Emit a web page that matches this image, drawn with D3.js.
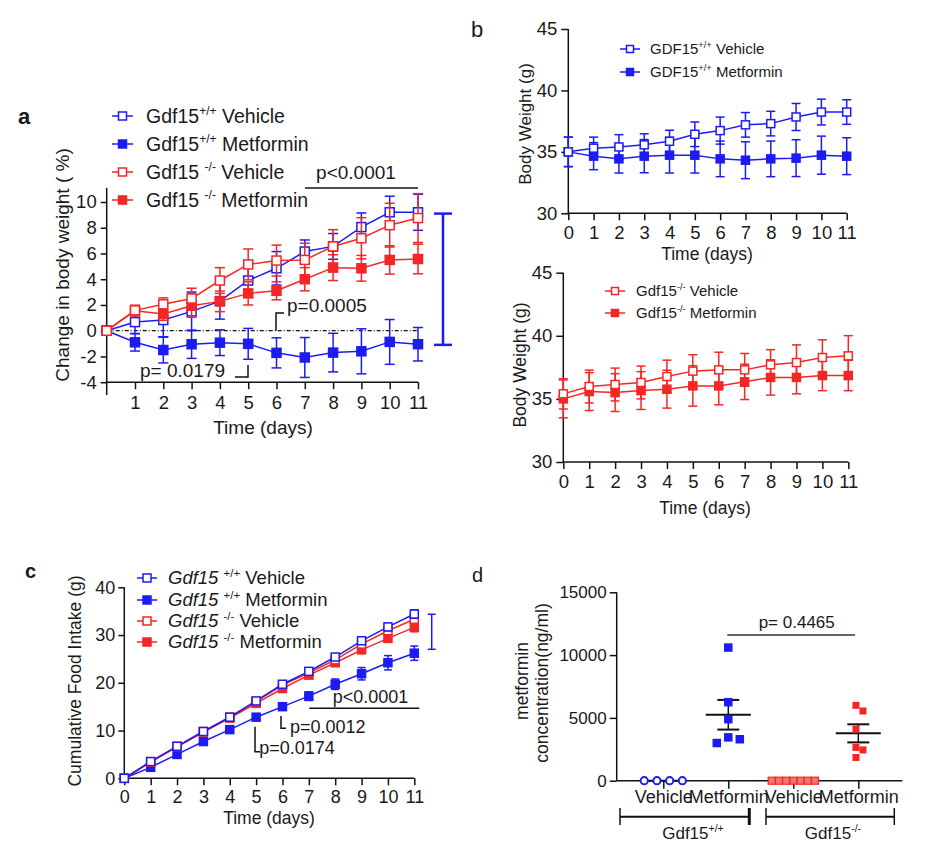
<!DOCTYPE html>
<html><head><meta charset="utf-8">
<script src="https://cdn.jsdelivr.net/npm/d3@7"></script>
<style>
body{margin:0;background:#fff}
svg{display:block}
text{font-family:"Liberation Sans",Arial,Helvetica,sans-serif;fill:#1a1a1a;white-space:pre}
</style>
</head><body>
<svg id="chart" width="928" height="859"></svg>
<script>
// ---------------- DATA ----------------
const days = [0,1,2,3,4,5,6,7,8,9,10,11];

// Panel a: change in body weight (%)
const aWtVeh    = [0, 0.67, 0.83, 1.5, 2.3, 3.9, 4.85, 6.15, 6.55, 8.05, 9.2, 9.2];
const aWtVehErr = [0, 0.9, 1.3, 1.5, 1.4, 1.3, 1.3, 0.9, 1.0, 1.1, 1.25, 1.4];
const aWtMet    = [0, -0.9, -1.5, -1.05, -0.93, -1.02, -1.72, -2.08, -1.7, -1.6, -0.87, -1.05];
const aWtMetErr = [0, 0.68, 1.0, 1.1, 1.0, 1.2, 1.17, 1.55, 1.5, 1.75, 1.74, 1.3];
const aKoVeh    = [0, 1.58, 2.05, 2.5, 3.9, 5.15, 5.45, 5.5, 6.55, 7.18, 8.2, 8.75];
const aKoVehErr = [0, 0.4, 0.5, 0.8, 1.0, 1.2, 1.2, 1.3, 1.3, 1.6, 1.7, 1.9];
const aKoMet    = [0, 1.55, 1.3, 1.94, 2.28, 2.9, 3.1, 4.0, 4.9, 4.85, 5.5, 5.57];
const aKoMetErr = [0, 0.4, 0.5, 0.9, 0.8, 0.9, 0.7, 0.9, 1.0, 1.0, 1.1, 1.15];
const aYTicks = [-4,-2,0,2,4,6,8,10];
const aXTicks = [1,2,3,4,5,6,7,8,9,10,11];
const aLegend = [
  [{t:"Gdf15"},{t:"+/+",sup:1},{t:" Vehicle"}],
  [{t:"Gdf15"},{t:"+/+",sup:1},{t:" Metformin"}],
  [{t:"Gdf15 "},{t:"-/-",sup:1},{t:" Vehicle"}],
  [{t:"Gdf15 "},{t:"-/-",sup:1},{t:" Metformin"}]
];

// Panel b: body weight (g)
const bWtVeh    = [35.0, 35.3, 35.4, 35.57, 35.86, 36.43, 36.73, 37.2, 37.3, 37.84, 38.24, 38.24];
const bWtVehErr = [1.2, 0.9, 1.0, 0.9, 0.9, 1.0, 1.1, 1.0, 1.0, 1.1, 1.05, 1.0];
const bWtMet    = [35.0, 34.65, 34.43, 34.65, 34.73, 34.73, 34.43, 34.32, 34.43, 34.49, 34.73, 34.65];
const bWtMetErr = [1.2, 1.1, 1.15, 1.35, 1.45, 1.45, 1.45, 1.5, 1.45, 1.5, 1.55, 1.5];
const bKoVeh    = [35.4, 35.98, 36.14, 36.3, 36.77, 37.2, 37.3, 37.3, 37.7, 37.88, 38.28, 38.41];
const bKoVehErr = [1.2, 1.3, 1.3, 1.3, 1.3, 1.3, 1.4, 1.3, 1.2, 1.4, 1.4, 1.6];
const bKoMet    = [35.0, 35.58, 35.5, 35.66, 35.77, 36.03, 36.03, 36.35, 36.7, 36.7, 36.85, 36.85];
const bKoMetErr = [1.5, 1.5, 1.5, 1.5, 1.5, 1.6, 1.5, 1.4, 1.4, 1.3, 1.2, 1.2];
const bYTicks = [30,35,40,45];
const bLegendTop = [
  [{t:"GDF15"},{t:"+/+",sup:1},{t:" Vehicle"}],
  [{t:"GDF15"},{t:"+/+",sup:1},{t:" Metformin"}]
];
const bLegendBottom = [
  [{t:"Gdf15"},{t:"-/-",sup:1},{t:" Vehicle"}],
  [{t:"Gdf15"},{t:"-/-",sup:1},{t:" Metformin"}]
];

// Panel c: cumulative food intake (g)
const cWtVeh    = [0, 3.5, 6.7, 9.8, 12.8, 16.2, 19.7, 22.4, 25.4, 28.8, 31.7, 34.4];
const cWtVehErr = [0, 0.3, 0.3, 0.4, 0.4, 0.5, 0.5, 0.6, 0.6, 0.7, 0.8, 0.9];
const cWtMet    = [0, 2.3, 5.0, 7.7, 10.2, 12.8, 15.0, 17.2, 19.7, 21.9, 24.2, 26.2];
const cWtMetErr = [0, 0.3, 0.4, 0.4, 0.5, 0.5, 0.6, 0.9, 1.1, 1.3, 1.5, 1.5];
const cKoVeh    = [0, 3.5, 6.7, 9.8, 12.8, 16.1, 19.5, 22.1, 24.8, 28.1, 30.9, 33.3];
const cKoVehErr = [0, 0.3, 0.3, 0.4, 0.4, 0.5, 0.5, 0.6, 0.6, 0.7, 0.8, 0.9];
const cKoMet    = [0, 3.4, 6.6, 9.7, 12.6, 15.7, 18.8, 21.6, 24.2, 26.9, 29.3, 31.6];
const cKoMetErr = [0, 0.3, 0.3, 0.4, 0.4, 0.5, 0.5, 0.6, 0.6, 0.7, 0.8, 0.9];
const cYTicks = [0,10,20,30,40];
const cXTicks = [0,1,2,3,4,5,6,7,8,9,10,11];
const cLegend = [
  [{t:"Gdf15",it:1},{t:" "},{t:"+/+",sup:1},{t:" Vehicle"}],
  [{t:"Gdf15",it:1},{t:" "},{t:"+/+",sup:1},{t:" Metformin"}],
  [{t:"Gdf15",it:1},{t:" "},{t:"-/-",sup:1},{t:" Vehicle"}],
  [{t:"Gdf15",it:1},{t:" "},{t:"-/-",sup:1},{t:" Metformin"}]
];

// Panel d: metformin concentration (ng/ml)
const dKeys   = ["wtVeh","wtMet","koVeh","koMet"];
const dLabels = ["Vehicle","Metformin","Vehicle","Metformin"];
const dWtVeh  = [0, 0, 0, 0];
const dWtMet  = [10600, 6250, 4900, 3450, 3300, 3000];
const dKoVeh  = [0, 0, 0, 0, 0, 0, 0];
const dKoMet  = [6000, 5550, 4100, 2650, 2450, 1850];
const dMeans  = [0, 5250, 0, 3770];
const dSems   = [0, 1180, 0, 720];
const dYTicks = [0,5000,10000,15000];
const dGroups = [
  [{t:"Gdf15"},{t:"+/+",sup:1}],
  [{t:"Gdf15"},{t:"-/-",sup:1}]
];

// ---------------- DRAWING ----------------
const BLUE = "#1c1cf2", RED = "#f42626", BLACK = "#111";
const svg = d3.select("#chart");

function rich(g, x, y, parts, fs, anchor) {
  const t = g.append("text").attr("x", x).attr("y", y).attr("font-size", fs)
    .attr("text-anchor", anchor || "start");
  let shift = 0;
  parts.forEach(p => {
    const ts = t.append("tspan").text(p.t);
    if (p.sup) { ts.attr("font-size", fs*0.62).attr("dy", -fs*0.42); shift = fs*0.42; }
    else if (shift) { ts.attr("dy", shift); shift = 0; }
    if (p.it) ts.attr("font-style", "italic");
  });
  return t;
}
function plain(g, x, y, s, fs, anchor, extra) {
  const t = g.append("text").attr("x", x).attr("y", y).attr("font-size", fs)
    .attr("text-anchor", anchor || "start").text(s);
  if (extra) extra(t);
  return t;
}
function line(g, x1, y1, x2, y2, color, w) {
  return g.append("line").attr("x1",x1).attr("y1",y1).attr("x2",x2).attr("y2",y2)
    .attr("stroke", color || BLACK).attr("stroke-width", w || 1.5);
}
function marker(g, cx, cy, size, color, filled, sw, fillOverride) {
  g.append("rect").attr("x", cx-size/2).attr("y", cy-size/2).attr("width", size).attr("height", size)
    .attr("fill", fillOverride || (filled ? color : "#fff")).attr("stroke", color).attr("stroke-width", sw || 1.5);
}
function series(g, x, y, vals, errs, color, filled, size, capW) {
  const eg = g.append("g").attr("stroke", color).attr("stroke-width", 1.5);
  vals.forEach((v, i) => {
    const e = errs[i];
    if (!e) return;
    const cx = x(days[i]);
    eg.append("line").attr("x1",cx).attr("x2",cx).attr("y1",y(v-e)).attr("y2",y(v+e));
    [v-e, v+e].forEach(b => eg.append("line").attr("x1",cx-capW/2).attr("x2",cx+capW/2).attr("y1",y(b)).attr("y2",y(b)));
  });
  g.append("path").datum(vals).attr("fill","none").attr("stroke",color).attr("stroke-width",1.5)
    .attr("d", d3.line().x((d,i) => x(days[i])).y(d => y(d)));
  const mg = g.append("g");
  vals.forEach((v, i) => marker(mg, x(days[i]), y(v), size, color, filled));
}
function styleAxis(ax, fs) {
  ax.attr("font-size", fs).attr("font-family", null).attr("color", BLACK);
  ax.selectAll(".tick line").attr("stroke-width", 1.5);
  ax.select(".domain").remove();
}
function legend(g, x0, x1, xt, ys, entries, colors, filled, fs, size) {
  entries.forEach((parts, i) => {
    const y = ys[i];
    line(g, x0, y, x1, y, colors[i], 1.5);
    marker(g, (x0+x1)/2, y, size, colors[i], filled[i]);
    rich(g, xt, y + fs*0.35, parts, fs);
  });
}
function yLabel(g, cx, cy, s, fs) {
  g.append("text").attr("transform", `translate(${cx + fs*0.35},${cy}) rotate(-90)`)
    .attr("font-size", fs).attr("text-anchor", "middle").text(s);
}

// ===== Panel a =====
{
  const g = svg.append("g");
  const x = d3.scaleLinear([0, 11], [106.7, 418]);
  const y = d3.scaleLinear([-4, 10], [382.2, 202]);
  plain(g, 18, 124, "a", 22, "start", t => t.attr("font-weight", "bold"));

  const ay = g.append("g").attr("transform", `translate(${x(0)},0)`)
    .call(d3.axisLeft(y).tickValues(aYTicks).tickFormat(d => String(d)).tickSize(6).tickPadding(4).tickSizeOuter(0));
  styleAxis(ay, 18.5);
  line(g, x(0), y(11.1), x(0), 395);
  const ax = g.append("g").attr("transform", `translate(0,${y(-4)})`)
    .call(d3.axisBottom(x).tickValues(aXTicks).tickFormat(d => String(d)).tickSize(7).tickPadding(7).tickSizeOuter(0));
  styleAxis(ax, 18.5);
  line(g, x(0), y(-4), x(11), y(-4));

  line(g, x(0), y(0), x(11), y(0), BLACK, 1.2).attr("stroke-dasharray", "4,2,1,2");

  series(g, x, y, aWtMet, aWtMetErr, BLUE, true, 9, 10);
  series(g, x, y, aWtVeh, aWtVehErr, BLUE, false, 9, 10);
  series(g, x, y, aKoMet, aKoMetErr, RED, true, 9, 10);
  series(g, x, y, aKoVeh, aKoVehErr, RED, false, 9, 10);

  plain(g, 263, 434, "Time (days)", 19, "middle");
  yLabel(g, 62, 265, "Change in body weight ( %)", 19);

  legend(g, 112, 133, 146, [116, 144, 172, 200], aLegend, [BLUE, BLUE, RED, RED], [false, true, false, true], 19.5, 8);

  // annotations
  plain(g, 356, 179, "p<0.0001", 19, "middle");
  line(g, 305, 188, 418, 188);
  line(g, 443, y(9.1), 443, y(-1.1), BLUE, 2.5);
  line(g, 434, y(9.1), 452, y(9.1), BLUE, 2.5);
  line(g, 434, y(-1.1), 452, y(-1.1), BLUE, 2.5);
  plain(g, 287, 312, "p=0.0005", 19);
  g.append("path").attr("d", `M276,${y(0)} V313 H284`).attr("fill","none").attr("stroke",BLACK).attr("stroke-width",1.5);
  plain(g, 140, 377, "p= 0.0179", 19);
  g.append("path").attr("d", `M235,377 H248 V365`).attr("fill","none").attr("stroke",BLACK).attr("stroke-width",1.5);
}

// ===== Panel b (top) =====
{
  const g = svg.append("g");
  const x = d3.scaleLinear([0, 11], [568.3, 846.7]);
  const y = d3.scaleLinear([30, 45], [213.3, 29]);
  plain(g, 471, 37, "b", 22);
  const ay = g.append("g").attr("transform", `translate(${x(0)},0)`)
    .call(d3.axisLeft(y).tickValues(bYTicks).tickFormat(d => String(d)).tickSize(7).tickPadding(4).tickSizeOuter(0));
  styleAxis(ay, 18.5);
  line(g, x(0), y(45), x(0), y(30));
  const ax = g.append("g").attr("transform", `translate(0,${y(30)})`)
    .call(d3.axisBottom(x).tickValues(days).tickFormat(d => String(d)).tickSize(7).tickPadding(6).tickSizeOuter(0));
  styleAxis(ax, 18.5);
  line(g, x(0), y(30), x(11), y(30));
  series(g, x, y, bWtMet, bWtMetErr, BLUE, true, 8, 9);
  series(g, x, y, bWtVeh, bWtVehErr, BLUE, false, 8, 9);
  plain(g, 707, 259.5, "Time (days)", 17.5, "middle");
  yLabel(g, 525, 124, "Body Weight (g)", 17);
  legend(g, 620, 640, 650, [49, 72], bLegendTop, [BLUE, BLUE], [false, true], 15, 7);
}

// ===== Panel b (bottom) =====
{
  const g = svg.append("g");
  const x = d3.scaleLinear([0, 11], [563.3, 848.3]);
  const y = d3.scaleLinear([30, 45], [462, 272.7]);
  const ay = g.append("g").attr("transform", `translate(${x(0)},0)`)
    .call(d3.axisLeft(y).tickValues(bYTicks).tickFormat(d => String(d)).tickSize(7).tickPadding(4).tickSizeOuter(0));
  styleAxis(ay, 18.5);
  line(g, x(0), y(45), x(0), y(30));
  const ax = g.append("g").attr("transform", `translate(0,${y(30)})`)
    .call(d3.axisBottom(x).tickValues(days).tickFormat(d => String(d)).tickSize(7).tickPadding(5.5).tickSizeOuter(0));
  styleAxis(ax, 18.5);
  line(g, x(0), y(30), x(11), y(30));
  series(g, x, y, bKoMet, bKoMetErr, RED, true, 8, 9);
  series(g, x, y, bKoVeh, bKoVehErr, RED, false, 8, 9);
  plain(g, 705, 513.5, "Time (days)", 17.5, "middle");
  yLabel(g, 520, 365, "Body Weight (g)", 17.5);
  legend(g, 605, 625, 636, [291, 313], bLegendBottom, [RED, RED], [false, true], 15, 7);
}

// ===== Panel c =====
{
  const g = svg.append("g");
  const x = d3.scaleLinear([0, 11], [124.3, 414.3]);
  const y = d3.scaleLinear([0, 40], [778.3, 587.3]);
  plain(g, 25, 578, "c", 20, "start", t => t.attr("font-weight", "bold"));
  const ay = g.append("g").attr("transform", `translate(${x(0)},0)`)
    .call(d3.axisLeft(y).tickValues(cYTicks).tickFormat(d => String(d)).tickSize(6).tickPadding(3).tickSizeOuter(0));
  styleAxis(ay, 18);
  line(g, x(0), y(40), x(0), y(0));
  const ax = g.append("g").attr("transform", `translate(0,${y(0)})`)
    .call(d3.axisBottom(x).tickValues(cXTicks).tickFormat(d => String(d)).tickSize(7).tickPadding(5).tickSizeOuter(0));
  styleAxis(ax, 18);
  line(g, x(0), y(0), x(11), y(0));
  series(g, x, y, cWtMet, cWtMetErr, BLUE, true, 8, 8);
  series(g, x, y, cKoMet, cKoMetErr, RED, true, 8, 8);
  series(g, x, y, cKoVeh, cKoVehErr, RED, false, 8, 8);
  series(g, x, y, cWtVeh, cWtVehErr, BLUE, false, 8, 8);
  plain(g, 269, 824, "Time (days)", 17.5, "middle");
  yLabel(g, 75, 681, "Cumulative Food Intake (g)", 17.5);
  legend(g, 137, 157, 168, [578, 600, 621, 642], cLegend, [BLUE, BLUE, RED, RED], [false, true, false, true], 18.5, 8);

  // annotations
  line(g, 431.7, 614.3, 431.7, 649.3, BLUE, 1.5);
  line(g, 427.7, 614.3, 435.7, 614.3, BLUE, 1.5);
  line(g, 427.7, 649.3, 435.7, 649.3, BLUE, 1.5);
  plain(g, 370.5, 703, "p<0.0001", 18, "middle");
  line(g, 309.3, 708.3, 419.3, 708.3);
  plain(g, 290, 733, "p=0.0012", 18);
  g.append("path").attr("d", "M281,716 V728.3 H286").attr("fill","none").attr("stroke",BLACK).attr("stroke-width",1.5);
  plain(g, 259.3, 753.6, "p=0.0174", 18);
  g.append("path").attr("d", "M255,726.7 V751.7 H260").attr("fill","none").attr("stroke",BLACK).attr("stroke-width",1.5);
}

// ===== Panel d =====
{
  const g = svg.append("g");
  const x = d3.scalePoint(dKeys, [663.3, 858.3]);
  const y = d3.scaleLinear([0, 15000], [780.7, 592.3]);
  plain(g, 472, 582, "d", 20);
  const ay = g.append("g").attr("transform", "translate(616.7,0)")
    .call(d3.axisLeft(y).tickValues(dYTicks).tickFormat(d => String(d)).tickSize(7).tickPadding(3).tickSizeOuter(0));
  styleAxis(ay, 17);
  line(g, 616.7, y(15000), 616.7, y(0));
  const ax = g.append("g").attr("transform", `translate(0,${y(0)})`)
    .call(d3.axisBottom(x).tickFormat((d, i) => dLabels[i]).tickSize(8).tickPadding(2).tickSizeOuter(0));
  styleAxis(ax, 18);
  line(g, 616.7, y(0), 902.3, y(0));

  yLabel(g, 521.7, 681, "metformin", 17.5);
  yLabel(g, 541.7, 683, "concentration(ng/ml)", 17.5);

  // mean & SEM
  dKeys.forEach((k, i) => {
    const cx = x(k), m = dMeans[i], s = dSems[i];
    line(g, cx - 22.5, y(m), cx + 22.5, y(m), BLACK, 2);
    if (s) {
      line(g, cx, y(m - s), cx, y(m + s), BLACK, 1.5);
      line(g, cx - 11, y(m - s), cx + 11, y(m - s), BLACK, 2);
      line(g, cx - 11, y(m + s), cx + 11, y(m + s), BLACK, 2);
    }
  });

  // simple beeswarm placement
  function swarm(vals, step) {
    const placed = [];
    vals.forEach(v => {
      const py = y(v);
      let off = 0;
      const cands = [0];
      for (let j = 1; j < 20; j++) { cands.push(j*step, -j*step); }
      for (const c of cands) {
        if (!placed.some(p => Math.hypot(p.off - c, p.py - py) < step - 0.01)) { off = c; break; }
      }
      placed.push({v, py, off});
    });
    const mean = d3.mean(placed, p => p.off);
    placed.forEach(p => p.off -= mean);
    return placed;
  }
  const pg = g.append("g");
  swarm(dWtVeh, 12.7).forEach(p => pg.append("circle").attr("cx", x("wtVeh") + p.off).attr("cy", p.py)
    .attr("r", 3.6).attr("fill", "#fff").attr("stroke", BLUE).attr("stroke-width", 2));
  swarm(dWtMet, 11.5).forEach(p => marker(pg, x("wtMet") + p.off, p.py, 7, BLUE, true));
  swarm(dKoVeh, 7.2).forEach(p => marker(pg, x("koVeh") + p.off, p.py, 7, RED, false, 1.2, "#f87070"));
  swarm(dKoMet, 7).forEach(p => marker(pg, x("koMet") + p.off, p.py, 5.5, RED, true));

  plain(g, 796.7, 627.5, "p= 0.4465", 17, "middle");
  line(g, 727.3, 635, 855, 635, "#333", 1.5);

  // group brackets
  line(g, 620, 816.7, 749.3, 816.7, BLACK, 2);
  line(g, 620, 808, 620, 825, BLACK, 1.5);
  line(g, 749.3, 808, 749.3, 825, BLACK, 3);
  line(g, 766, 816.7, 894.3, 816.7, BLACK, 2);
  line(g, 766, 808, 766, 825, BLACK, 1.5);
  line(g, 894.3, 808, 894.3, 825, BLACK, 1.5);
  rich(g, 693, 839, dGroups[0], 17, "middle");
  rich(g, 833, 839, dGroups[1], 17, "middle");
}
</script>
</body></html>
